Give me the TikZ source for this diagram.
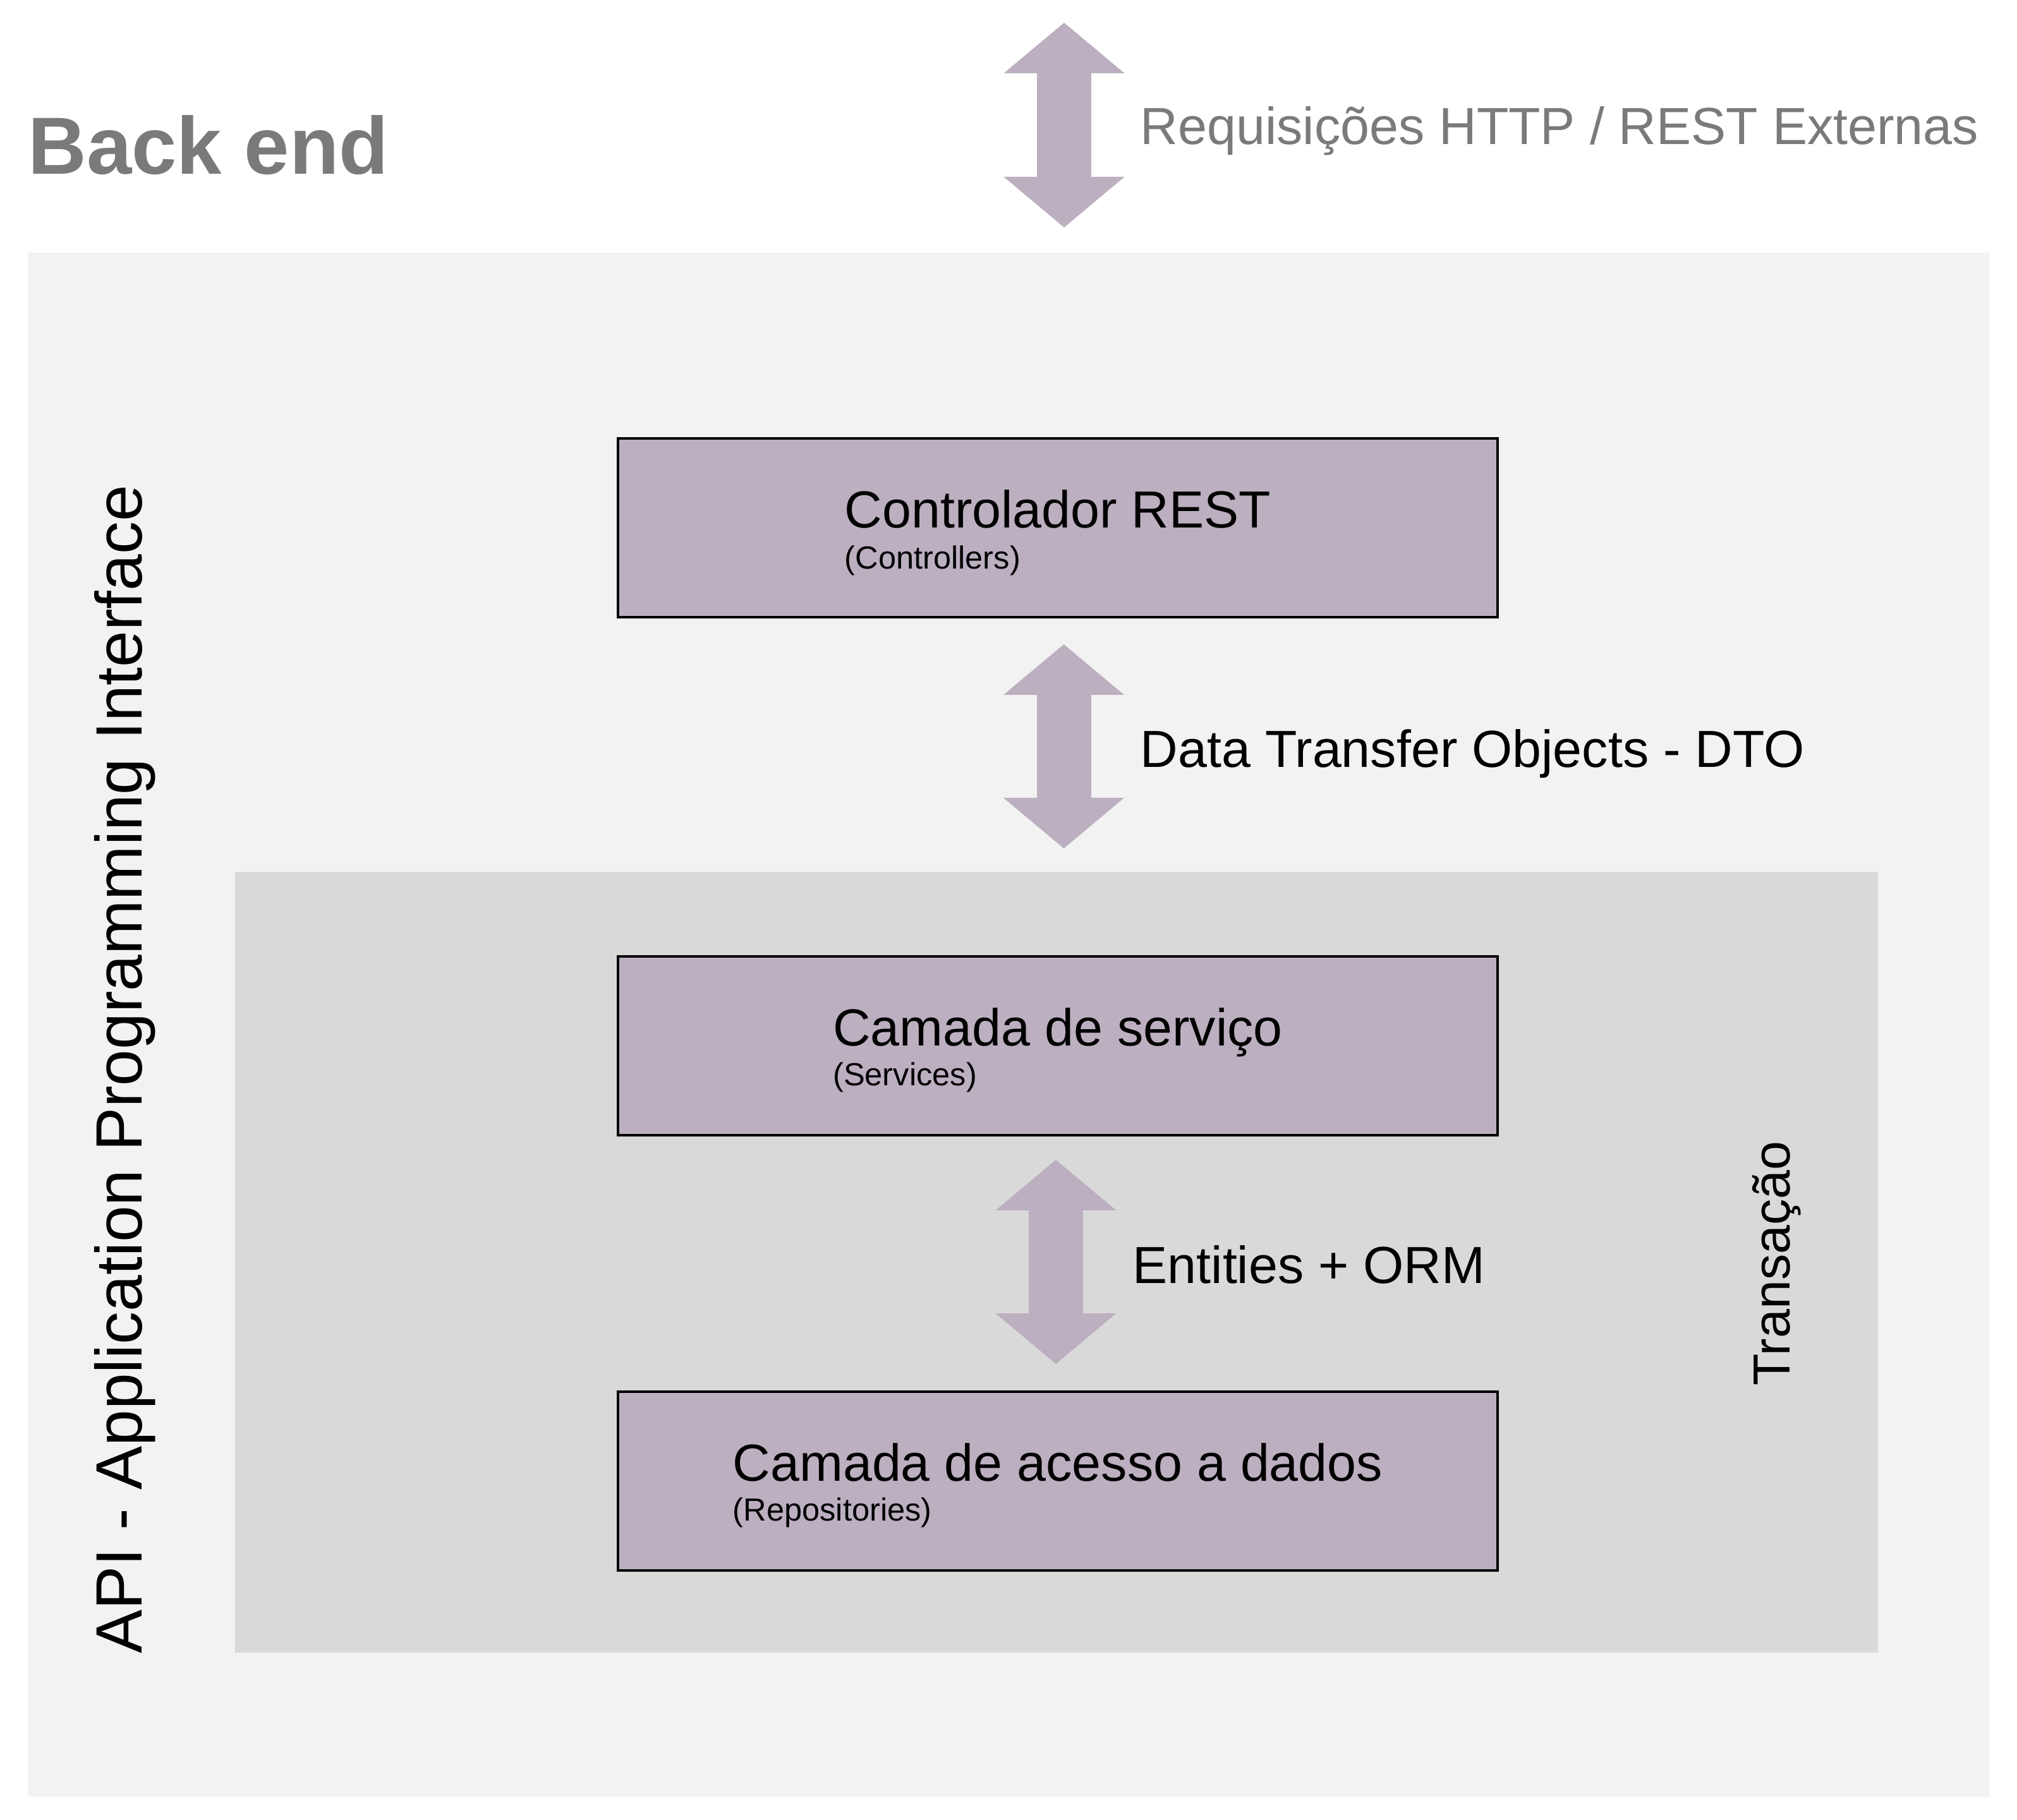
\documentclass[tikz,border=0pt]{standalone}
\usepackage{fontspec}
\setmainfont{Liberation Sans}
\usetikzlibrary{positioning,arrows.meta}
\definecolor{layerfill}{HTML}{BCAFC0}
\definecolor{apibg}{HTML}{F2F2F2}
\definecolor{transbg}{HTML}{D9D9D9}
\definecolor{titlegray}{HTML}{7A7A7A}

\begin{document}
\begin{tikzpicture}[
	layer/.style={rectangle, draw=black, line width=0.04cm, fill=layerfill, minimum width=13.92cm, minimum height=2.83cm},
	layertitle/.style={font=\fontsize{23.5}{28}\selectfont, inner sep=0pt},
	layersub/.style={font=\fontsize{14.4}{17}\selectfont, inner sep=0pt},
	flowlabel/.style={font=\fontsize{23.5}{28}\selectfont, inner sep=0pt, anchor=base west},
	sidelabel/.style={rotate=90, anchor=base, inner sep=0pt},
	flow/.style={color=layerfill, line width=0.86cm, {Triangle[length=0.8cm, width=1.91cm, line width=0pt]}-{Triangle[length=0.8cm, width=1.91cm, line width=0pt]}}
]
\useasboundingbox[fill=white] (0,0) rectangle (31.92,28.80);
% panels
\fill[apibg] (0.44,0.36) rectangle (31.48,24.80);
\fill[transbg] (3.72,2.64) rectangle (29.72,15.00);

\node[font=\bfseries\fontsize{36.5}{44}\selectfont, text=titlegray, inner sep=0pt, anchor=base west] (backend) at (0.44,26.04) {Back end};

% layers
\node[layer] (ctrl) at (16.74,20.445) {};
\node[layer] (serv) at (16.74,12.24) {};
\node[layer] (repo) at (16.74,5.355) {};

\node[layertitle, anchor=base] (ctrltitle) at (ctrl.center) {Controlador REST};
\node[layersub, anchor=base west] (ctrlsub) at ([yshift=-0.65cm]ctrltitle.base west) {(Controllers)};
\node[layertitle, anchor=base] (servtitle) at (serv.center) {Camada de serviço};
\node[layersub, anchor=base west] (servsub) at ([yshift=-0.63cm]servtitle.base west) {(Services)};
\node[layertitle, anchor=base] (repotitle) at (repo.center) {Camada de acesso a dados};
\node[layersub, anchor=base west] (reposub) at ([yshift=-0.63cm]repotitle.base west) {(Repositories)};

% fluxos
\coordinate (httptop) at (16.84,28.44);
\coordinate (httpbot) at (16.84,25.20);
\coordinate (dtotop) at (16.835,18.60);
\coordinate (dtobot) at (16.835,15.37);
\coordinate (ormtop) at (16.71,10.44);
\coordinate (ormbot) at (16.71,7.21);
\draw[flow] (httptop) -- (httpbot);
\draw[flow] (dtotop) -- (dtobot);
\draw[flow] (ormtop) -- (ormbot);

\node[flowlabel, text=titlegray] (httplabel) at (18.04,26.51) {Requisições HTTP / REST Externas};
\node[flowlabel] (dtolabel) at (18.04,16.65) {Data Transfer Objects - DTO};
\node[flowlabel] (ormlabel) at (17.92,8.48) {Entities + ORM};

\node[sidelabel, font=\fontsize{29.5}{35}\selectfont] (apilabel) at (2.24,11.87) {API - Application Programming Interface};
\node[sidelabel, font=\fontsize{23.5}{28}\selectfont] (translabel) at (28.32,8.80) {Transação};
\end{tikzpicture}
\end{document}
